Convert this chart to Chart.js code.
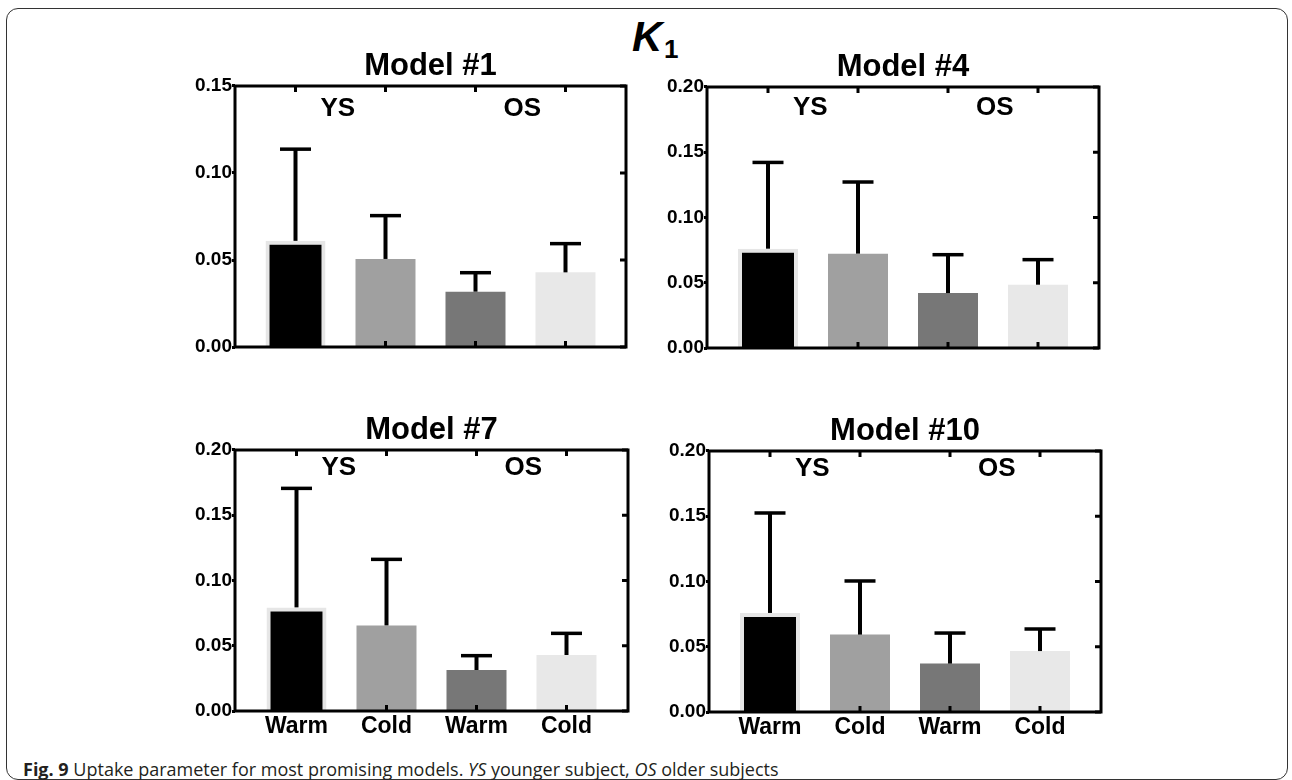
<!DOCTYPE html>
<html>
<head>
<meta charset="utf-8">
<script src="https://cdn.jsdelivr.net/npm/chart.js@4.4.1/dist/chart.umd.min.js"></script>
<style>
  html, body { margin: 0; padding: 0; background: #fff; }
  #page { position: relative; width: 1292px; height: 780px; overflow: hidden; font-family: "Liberation Sans", Arial, sans-serif; }
  #frame { position: absolute; left: 6px; top: 8px; width: 1282px; height: 772px; border: 1.5px solid #333; border-radius: 12px; box-sizing: border-box; }
  canvas { position: absolute; }
  .k { position: absolute; font-weight: bold; line-height: 1; color: #000; white-space: nowrap; }
  #caption { position: absolute; left: 23px; top: 760px; font-family: "Open Sans", sans-serif; font-size: 18px; line-height: 18px; color: #231f20; white-space: nowrap; }
</style>
</head>
<body>
<div id="page">
  <div id="frame"></div>
  <span class="k" style="left:632px; top:16px; font-size:42px; font-style:italic;">K</span>
  <span class="k" style="left:664px; top:36px; font-size:26px;">1</span>
  <canvas id="m1" width="461" height="311" style="left:175px; top:48px;"></canvas>
  <canvas id="m4" width="462" height="311" style="left:647px; top:49px;"></canvas>
  <canvas id="m7" width="463" height="339" style="left:175px; top:412px;"></canvas>
  <canvas id="m10" width="462" height="339" style="left:649px; top:413px;"></canvas>
  <div id="caption"><b>Fig. 9</b> Uptake parameter for most promising models. <i>YS</i> younger subject, <i>OS</i> older subjects</div>
</div>
<script>
// K1 uptake parameter, mean + SD per condition
const conditions = ['Warm', 'Cold', 'Warm', 'Cold'];
const groups = ['YS', 'OS'];
const groupPos = [0.47, 2.52];
const barColors = ['#000000', '#a0a0a0', '#777777', '#e8e8e8'];

const model1Mean = [0.061, 0.0506, 0.0318, 0.0429];
const model1Sd = [0.0527, 0.0249, 0.0109, 0.0165];
const model4Mean = [0.0761, 0.0723, 0.0421, 0.0485];
const model4Sd = [0.0661, 0.0549, 0.0294, 0.0192];
const model7Mean = [0.0794, 0.0656, 0.0314, 0.0429];
const model7Sd = [0.0912, 0.0506, 0.0110, 0.0166];
const model10Mean = [0.0759, 0.0593, 0.0371, 0.0467];
const model10Sd = [0.0766, 0.0411, 0.0234, 0.0169];

const yTicks15 = [0, 0.05, 0.10, 0.15];
const yTicks20 = [0, 0.05, 0.10, 0.15, 0.20];

Chart.defaults.font.family = '"Liberation Sans", Arial, sans-serif';
Chart.defaults.color = '#000';

// error bars, box frame, inner ticks and group labels
const extras = {
  id: 'extras',
  afterDatasetsDraw(chart, args, opts) {
    const { ctx, chartArea: a, scales: { x, y } } = chart;
    ctx.save();
    ctx.strokeStyle = '#000';
    ctx.fillStyle = '#000';

    opts.means.forEach((m, i) => {
      const px = x.getPixelForValue(i);
      const y0 = y.getPixelForValue(m);
      const y1 = y.getPixelForValue(m + opts.sds[i]);
      ctx.lineWidth = 4;
      ctx.beginPath();
      ctx.moveTo(px, y0);
      ctx.lineTo(px, y1);
      ctx.stroke();
      ctx.lineWidth = 3.5;
      ctx.beginPath();
      ctx.moveTo(px - 15.5, y1);
      ctx.lineTo(px + 15.5, y1);
      ctx.stroke();
    });

    ctx.lineWidth = 3;
    ctx.strokeRect(a.left, a.top, a.width, a.height);

    ctx.beginPath();
    conditions.forEach((c, i) => {
      const px = x.getPixelForValue(i);
      ctx.moveTo(px, a.top);
      ctx.lineTo(px, a.top + 6);
      ctx.moveTo(px, a.bottom);
      ctx.lineTo(px, a.bottom - 6);
    });
    opts.yTicks.forEach(v => {
      const py = y.getPixelForValue(v);
      ctx.moveTo(a.right, py);
      ctx.lineTo(a.right - 6, py);
    });
    ctx.stroke();

    ctx.font = 'bold 26px "Liberation Sans", Arial, sans-serif';
    ctx.textAlign = 'center';
    ctx.textBaseline = 'alphabetic';
    groups.forEach((g, i) => {
      ctx.fillText(g, x.getPixelForValue(groupPos[i]), a.top + opts.groupDy);
    });
    ctx.restore();
  }
};

function makeChart(id, title, means, sds, yMax, yTicks, showLabels, groupDy) {
  const plotW = document.getElementById(id).width - 70;
  const half = (plotW / 90 - 3) / 2;
  return new Chart(document.getElementById(id), {
    type: 'bar',
    data: {
      datasets: [{
        data: means.map((m, i) => ({ x: i, y: m })),
        backgroundColor: barColors,
        borderColor: '#e6e6e6',
        borderWidth: [4, 0, 0, 0],
        barPercentage: 0.8333,
        categoryPercentage: 0.8
      }]
    },
    options: {
      responsive: false,
      animation: false,
      layout: { padding: { left: 0, right: 10, top: 0, bottom: 0 } },
      plugins: {
        legend: { display: false },
        tooltip: { enabled: false },
        title: {
          display: true,
          text: title,
          fullSize: false,
          color: '#000',
          font: { size: 31, weight: 'bold' },
          padding: { top: 0, bottom: 0.8 }
        },
        extras: { means, sds, yTicks, groupDy }
      },
      scales: {
        x: {
          type: 'linear',
          offset: false,
          min: -half,
          max: 3 + half,
          afterBuildTicks: s => { s.ticks = conditions.map((c, i) => ({ value: i })); },
          afterFit: s => { s.height = showLabels ? 40 : 12; },
          grid: { display: false, drawTicks: false, offset: false },
          border: { display: false },
          ticks: {
            display: showLabels,
            autoSkip: false,
            maxRotation: 0,
            padding: 2,
            color: '#000',
            font: { size: 23, weight: 'bold' },
            callback: v => conditions[v]
          }
        },
        y: {
          min: 0,
          max: yMax,
          afterBuildTicks: s => { s.ticks = yTicks.map(v => ({ value: v })); },
          afterFit: s => { s.width = 60; },
          grid: { drawOnChartArea: false, drawTicks: true, tickLength: 3, tickWidth: 3, tickColor: '#000' },
          border: { display: false },
          ticks: {
            padding: 0,
            color: '#000',
            font: { size: 19, weight: 'bold' },
            callback: v => v.toFixed(2)
          }
        }
      }
    },
    plugins: [extras]
  });
}

makeChart('m1', 'Model #1', model1Mean, model1Sd, 0.15, yTicks15, false, 30);
makeChart('m4', 'Model #4', model4Mean, model4Sd, 0.20, yTicks20, false, 28);
makeChart('m7', 'Model #7', model7Mean, model7Sd, 0.20, yTicks20, true, 25);
makeChart('m10', 'Model #10', model10Mean, model10Sd, 0.20, yTicks20, true, 25);
</script>
</body>
</html>
